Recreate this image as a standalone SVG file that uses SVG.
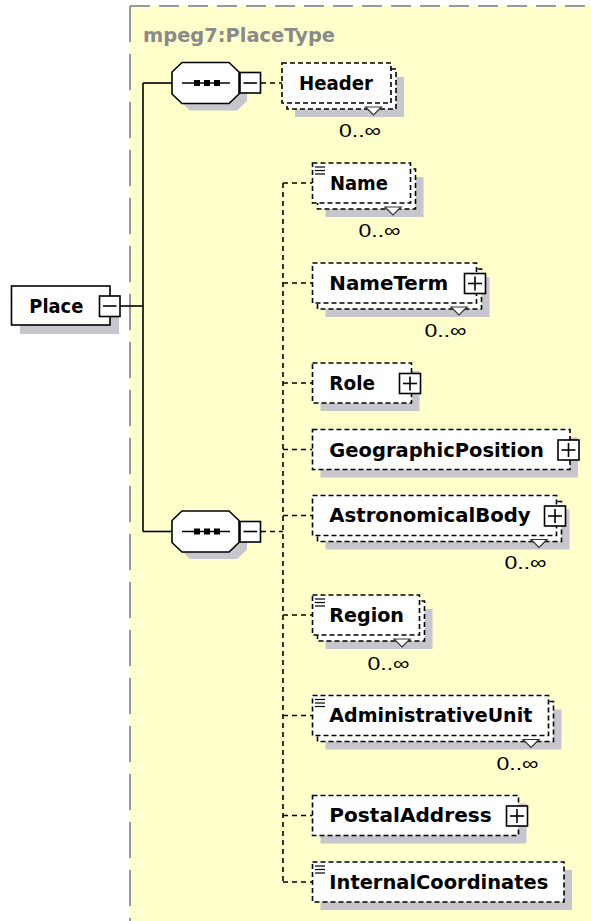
<svg xmlns="http://www.w3.org/2000/svg" width="591" height="921" viewBox="0 0 591 921">
<defs>
<style>
.bg{fill:#ffffcc}
.frame{stroke:#999;stroke-width:2;fill:none}
.sh{fill:#c6c6cc}
.box{fill:#fff;stroke:#000;stroke-width:1.6;stroke-dasharray:5 3}
.solid{fill:#fff;stroke:#000;stroke-width:1.6}
.lbl{font-family:"DejaVu Sans",Verdana,sans-serif;font-weight:bold;font-size:19px;fill:#000}
.occ{font-family:"Liberation Sans",Arial,sans-serif;font-size:19px;fill:#000}
.title{font-family:"DejaVu Sans",Verdana,sans-serif;font-weight:bold;font-size:19px;fill:#8a8a8a}
.ln{stroke:#000;stroke-width:1.6;fill:none}
.dl{stroke:#000;stroke-width:1.6;fill:none;stroke-dasharray:5 4}
.v{fill:#fff;stroke:#333;stroke-width:1.2}
.ic{stroke:#000;stroke-width:1.2}
</style>
</defs>
<rect class="bg" x="130" y="6" width="461" height="915"/>
<line class="frame" x1="130" y1="6" x2="591" y2="6" stroke-dasharray="20 9"/>
<line class="frame" x1="130" y1="6" x2="130" y2="921" stroke-dasharray="36 12"/>
<text class="title" x="143" y="41.5" textLength="192" lengthAdjust="spacingAndGlyphs">mpeg7:PlaceType</text>

<g id="connectors">
<line class="ln" x1="143" y1="83" x2="143" y2="531.5"/>
<line class="ln" x1="143" y1="83" x2="172" y2="83"/>
<line class="ln" x1="143" y1="531.5" x2="172" y2="531.5"/>
<line class="ln" x1="120" y1="306" x2="143" y2="306"/>
<line class="dl" x1="261" y1="83" x2="282" y2="83"/>
<line class="dl" x1="261" y1="531.5" x2="283" y2="531.5"/>
<line class="dl" x1="283" y1="183" x2="283" y2="882"/>
<line class="dl" x1="283" y1="183" x2="312.5" y2="183"/>
<line class="dl" x1="283" y1="283" x2="312.5" y2="283"/>
<line class="dl" x1="283" y1="383" x2="312.5" y2="383"/>
<line class="dl" x1="283" y1="449.5" x2="312.5" y2="449.5"/>
<line class="dl" x1="283" y1="515.5" x2="312.5" y2="515.5"/>
<line class="dl" x1="283" y1="615" x2="312.5" y2="615"/>
<line class="dl" x1="283" y1="715.5" x2="312.5" y2="715.5"/>
<line class="dl" x1="283" y1="815.5" x2="312.5" y2="815.5"/>
<line class="dl" x1="283" y1="882" x2="312.5" y2="882"/>
</g>

<g id="place">
<rect class="sh" x="20" y="295" width="99" height="39"/>
<rect class="solid" x="11.5" y="286" width="98.5" height="39"/>
<text class="lbl" x="29.3" y="312.7" textLength="54" lengthAdjust="spacingAndGlyphs">Place</text>
<rect class="solid" x="99.5" y="296" width="20.5" height="20.5"/>
<line class="ln" x1="103" y1="306" x2="116.5" y2="306"/>
</g>

<g id="seq1">
<polygon class="sh" points="190,69.5 237,69.5 247,79 247,101 237,110.5 190,110.5 180,101 180,79"/>
<polygon class="solid" points="182,62.5 229,62.5 239,72 239,94 229,103.5 182,103.5 172,94 172,72"/>
<line class="ln" x1="182" y1="83" x2="230" y2="83"/>
<rect x="194" y="80" width="6" height="6"/><rect x="204" y="80" width="6" height="6"/><rect x="214" y="80" width="6" height="6"/>
<rect class="solid" x="240" y="72.5" width="20.5" height="20.5"/>
<line class="ln" x1="243.5" y1="83" x2="257" y2="83"/>
</g>

<g id="seq2">
<polygon class="sh" points="190,518 237,518 247,527.5 247,549.5 237,559 190,559 180,549.5 180,527.5"/>
<polygon class="solid" points="182,511 229,511 239,520.5 239,542.5 229,552 182,552 172,542.5 172,520.5"/>
<line class="ln" x1="182" y1="531.5" x2="230" y2="531.5"/>
<rect x="194" y="528.5" width="6" height="6"/><rect x="204" y="528.5" width="6" height="6"/><rect x="214" y="528.5" width="6" height="6"/>
<rect class="solid" x="240" y="521.5" width="20.5" height="20.5"/>
<line class="ln" x1="243.5" y1="531.5" x2="257" y2="531.5"/>
</g>

<g id="header">
<rect class="sh" x="295" y="77" width="109" height="40"/>
<rect class="box" x="287" y="69" width="109" height="40"/>
<rect class="box" x="282" y="63" width="109" height="40"/>
<text class="lbl" x="299" y="89.8" textLength="74" lengthAdjust="spacingAndGlyphs">Header</text>
<polygon class="v" points="365.5,107 373.5,115 381.5,107"/>
<text class="occ" x="381" y="136.8" text-anchor="end" textLength="42" lengthAdjust="spacingAndGlyphs">0..∞</text>
</g>

<g id="name">
<rect class="sh" x="325.5" y="177" width="98" height="40"/>
<rect class="box" x="317.5" y="169" width="98" height="40"/>
<rect class="box" x="312.5" y="163" width="98" height="40"/>
<line class="ic" x1="315" y1="167" x2="325" y2="167"/><line class="ic" x1="315" y1="170.5" x2="325" y2="170.5"/><line class="ic" x1="315" y1="174" x2="325" y2="174"/>
<text class="lbl" x="330" y="189.8" textLength="58" lengthAdjust="spacingAndGlyphs">Name</text>
<polygon class="v" points="385,207 393,215 401,207"/>
<text class="occ" x="400.5" y="236.8" text-anchor="end" textLength="42" lengthAdjust="spacingAndGlyphs">0..∞</text>
</g>

<g id="nameterm">
<rect class="sh" x="325.5" y="277" width="164" height="40"/>
<rect class="box" x="317.5" y="269" width="164" height="40"/>
<rect class="box" x="312.5" y="263" width="164" height="40"/>
<text class="lbl" x="329.3" y="289.8" textLength="119" lengthAdjust="spacingAndGlyphs">NameTerm</text>
<rect class="solid" x="464.5" y="273.5" width="21" height="20"/>
<line class="ln" x1="468" y1="283.5" x2="482" y2="283.5"/><line class="ln" x1="475" y1="276.5" x2="475" y2="290.5"/>
<polygon class="v" points="451,307 459,315 467,307"/>
<text class="occ" x="466.5" y="336.8" text-anchor="end" textLength="42" lengthAdjust="spacingAndGlyphs">0..∞</text>
</g>

<g id="role">
<rect class="sh" x="320.5" y="371" width="99" height="40"/>
<rect class="box" x="312.5" y="363" width="99" height="40"/>
<text class="lbl" x="329.3" y="390" textLength="45.7" lengthAdjust="spacingAndGlyphs">Role</text>
<rect class="solid" x="399.5" y="373.5" width="21" height="20"/>
<line class="ln" x1="403" y1="383.5" x2="417" y2="383.5"/><line class="ln" x1="410" y1="376.5" x2="410" y2="390.5"/>
</g>

<g id="geo">
<rect class="sh" x="320.5" y="437.5" width="257.5" height="40"/>
<rect class="box" x="312.5" y="429.5" width="257.5" height="40"/>
<text class="lbl" x="329.3" y="456.5" textLength="214.7" lengthAdjust="spacingAndGlyphs">GeographicPosition</text>
<rect class="solid" x="558" y="440" width="21" height="20"/>
<line class="ln" x1="561.5" y1="450" x2="575.5" y2="450"/><line class="ln" x1="568.5" y1="443" x2="568.5" y2="457"/>
</g>

<g id="astro">
<rect class="sh" x="325.5" y="509.5" width="244" height="40"/>
<rect class="box" x="317.5" y="501.5" width="244" height="40"/>
<rect class="box" x="312.5" y="495.5" width="244" height="40"/>
<text class="lbl" x="329.3" y="522" textLength="201.4" lengthAdjust="spacingAndGlyphs">AstronomicalBody</text>
<rect class="solid" x="544.5" y="506" width="21" height="20"/>
<line class="ln" x1="548" y1="516" x2="562" y2="516"/><line class="ln" x1="555" y1="509" x2="555" y2="523"/>
<polygon class="v" points="531,539.5 539,547.5 547,539.5"/>
<text class="occ" x="546.5" y="568.8" text-anchor="end" textLength="42" lengthAdjust="spacingAndGlyphs">0..∞</text>
</g>

<g id="region">
<rect class="sh" x="325.5" y="609" width="107" height="40"/>
<rect class="box" x="317.5" y="601" width="107" height="40"/>
<rect class="box" x="312.5" y="595" width="107" height="40"/>
<line class="ic" x1="315" y1="599" x2="325" y2="599"/><line class="ic" x1="315" y1="602.5" x2="325" y2="602.5"/><line class="ic" x1="315" y1="606" x2="325" y2="606"/>
<text class="lbl" x="329.3" y="621.8" textLength="74.7" lengthAdjust="spacingAndGlyphs">Region</text>
<polygon class="v" points="394,639 402,647 410,639"/>
<text class="occ" x="409.5" y="669.8" text-anchor="end" textLength="42" lengthAdjust="spacingAndGlyphs">0..∞</text>
</g>

<g id="admin">
<rect class="sh" x="325.5" y="709.5" width="236" height="40"/>
<rect class="box" x="317.5" y="701.5" width="236" height="40"/>
<rect class="box" x="312.5" y="695.5" width="236" height="40"/>
<line class="ic" x1="315" y1="699.5" x2="325" y2="699.5"/><line class="ic" x1="315" y1="703" x2="325" y2="703"/><line class="ic" x1="315" y1="706.5" x2="325" y2="706.5"/>
<text class="lbl" x="329.3" y="722" textLength="203" lengthAdjust="spacingAndGlyphs">AdministrativeUnit</text>
<polygon class="v" points="523,739.5 531,747.5 539,739.5"/>
<text class="occ" x="538.5" y="769.8" text-anchor="end" textLength="42" lengthAdjust="spacingAndGlyphs">0..∞</text>
</g>

<g id="postal">
<rect class="sh" x="320.5" y="803.5" width="206" height="40"/>
<rect class="box" x="312.5" y="795.5" width="206" height="40"/>
<text class="lbl" x="329.3" y="822" textLength="162.4" lengthAdjust="spacingAndGlyphs">PostalAddress</text>
<rect class="solid" x="506.5" y="806" width="21" height="20"/>
<line class="ln" x1="510" y1="816" x2="524" y2="816"/><line class="ln" x1="517" y1="809" x2="517" y2="823"/>
</g>

<g id="internal">
<rect class="sh" x="320.5" y="870" width="251.5" height="40"/>
<rect class="box" x="312.5" y="862" width="251.5" height="40"/>
<line class="ic" x1="315" y1="866" x2="325" y2="866"/><line class="ic" x1="315" y1="869.5" x2="325" y2="869.5"/><line class="ic" x1="315" y1="873" x2="325" y2="873"/>
<text class="lbl" x="329.3" y="888.5" textLength="219" lengthAdjust="spacingAndGlyphs">InternalCoordinates</text>
</g>
</svg>
